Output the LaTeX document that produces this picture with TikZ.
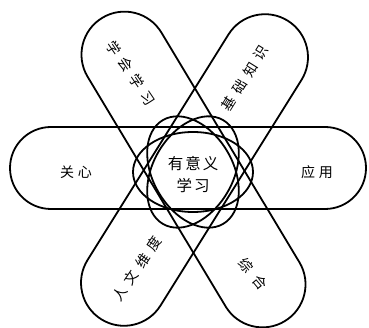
\documentclass[tikz,border=0pt]{standalone}
\usepackage{fontspec}
\newfontfamily\cjk{Noto Sans CJK SC}
\newcommand{\gap}{\kern6pt}
\begin{document}
\begin{tikzpicture}[x=1pt,y=-1pt,
  petal/.style={draw=black, line width=1.8pt},
  core/.style={draw=black, line width=1.8pt},
  lbl/.style={font=\cjk\fontsize{14}{16}\selectfont, inner sep=0pt},
  mid/.style={font=\cjk\fontsize{15.5}{22}\selectfont, align=center, inner sep=0pt}]
\useasboundingbox (0,0) rectangle (369,328);
% three long loops
\draw[petal, shift={(188,168)}, rounded corners=41pt] (-178,-41) rectangle (178,41);
\draw[petal, shift={(193.5,169.5)}, rotate=-59, rounded corners=43pt] (-177,-43) rectangle (177,43);
\draw[petal, shift={(194.5,170)}, rotate=58, rounded corners=43pt] (-176,-43) rectangle (176,43);
% core ellipses
\coordinate (c) at (193,172);
\draw[core] (c) ellipse[x radius=60, y radius=40];
\draw[core, rotate around={60:(c)}] (c) ellipse[x radius=60, y radius=40];
\draw[core, rotate around={-60:(c)}] (c) ellipse[x radius=60, y radius=40];
% labels
\node[mid] (m) at (193,175) {有\kern2pt 意\kern2pt 义\\学\kern2pt 习};
\node[lbl] (a) at (76,172) {关\kern4pt 心};
\node[lbl] (b) at (317,172) {应\kern4pt 用};
\node[lbl, rotate=-56] (d) at (131,73) {学\gap 会\gap 学\gap 习};
\node[lbl, rotate=58] (e) at (245,78) {基\gap 础\gap 知\gap 识};
\node[lbl, rotate=56] (f) at (137,269) {人\gap 文\gap 维\gap 度};
\node[lbl, rotate=-50] (g) at (253,274) {综\kern8pt 合};
\end{tikzpicture}
\end{document}
